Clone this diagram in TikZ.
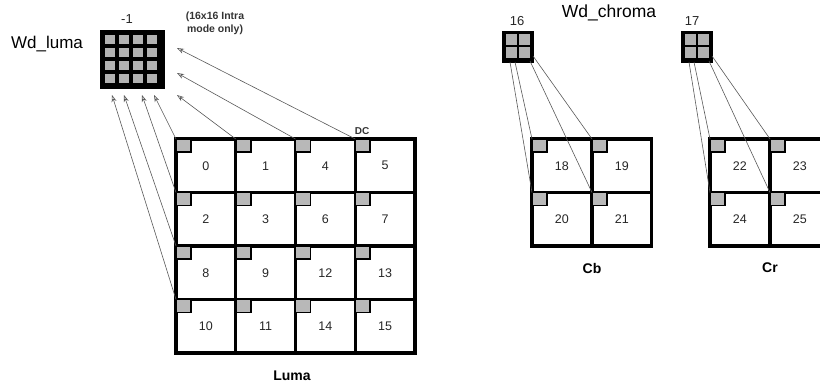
\documentclass[tikz,border=0pt]{standalone}
\usepackage{fontspec}
\setmainfont{Liberation Sans}
\usetikzlibrary{arrows.meta,patterns}
\tikzset{
  cellbox/.style={draw, line width=3.2pt, minimum width=59.75pt, minimum height=53.5pt,
    inner sep=0pt, outer sep=0pt, anchor=north west, text=black!85,
    font=\fontsize{12.5}{14}\selectfont},
  dcsq/.style={draw=black, fill=black!28, line width=1.8pt},
  wdbox/.style={draw=black, fill=black, inner sep=0pt, outer sep=0pt, anchor=north west},
  wdsq/.style={fill=black!30},
  arr/.style={draw=black!65, line width=0.6pt, -{Stealth[open,length=7pt,width=5pt]}},
  thinln/.style={draw=black!65, line width=0.6pt},
  lbl/.style={inner sep=0pt, font=\fontsize{17}{19}\selectfont},
  num/.style={inner sep=0pt, text=black!85, font=\fontsize{13}{15}\selectfont},
  bold/.style={inner sep=0pt, font=\bfseries\fontsize{14}{16}\selectfont},
  small/.style={inner sep=0pt, align=center, text=black!80, font=\bfseries\fontsize{10.5}{13}\selectfont}
}
\begin{document}
\begin{tikzpicture}[x=1pt,y=-1pt]
\useasboundingbox (0,0) rectangle (820,385);
\clip (0,0) rectangle (820,385);

% ---------- Luma grid ----------
\foreach \n/\c/\r in {0/0/0,1/1/0,4/2/0,5/3/0,2/0/1,3/1/1,6/2/1,7/3/1,8/0/2,9/1/2,12/2/2,13/3/2,10/0/3,11/1/3,14/2/3,15/3/3} {
  \node[cellbox] (c\n) at ({176+59.75*\c},{139+53.5*\r}) {\n};
  \draw[dcsq] (c\n.north west) rectangle ++(15,13);
}
\node[bold] (lumalbl) at (292,376) {Luma};
\node[small, font=\bfseries\fontsize{10}{12}\selectfont] (dc) at (362,131) {DC};

% ---------- Wd_luma ----------
\node[wdbox, minimum width=64pt, minimum height=58pt] (wdl) at (100,30) {};
\foreach \i in {0,...,3} \foreach \j in {0,...,3}
  \fill[wdsq] ({105+14*\i},{35+13*\j}) rectangle ++(10,9);
\node[lbl] (wdltxt) at (47,44) {Wd\_luma};
\node[num] (m1) at (127,19) {-1};
\node[small] (intra) at (215,23) {(16x16 Intra\\mode only)};

\coordinate (a1) at (112,95);
\coordinate (a2) at (124,95);
\coordinate (a3) at (142,95);
\coordinate (a4) at (154,95);
\coordinate (a5) at (177,95);
\coordinate (a6) at (177,73);
\coordinate (a7) at (177,48);
\draw[arr] (c10.north west) -- (a1);
\draw[arr] (c8.north west) -- (a2);
\draw[arr] (c2.north west) -- (a3);
\draw[arr] (c0.north west) -- (a4);
\draw[arr] (c1.north west) -- (a5);
\draw[arr] (c4.north west) -- (a6);
\draw[arr] (c5.north west) -- (a7);

% ---------- Cb ----------
\foreach \n/\c/\r in {18/0/0,19/1/0,20/0/1,21/1/1} {
  \node[cellbox] (c\n) at ({532+60*\c},{139+53.5*\r}) {\n};
  \draw[dcsq] (c\n.north west) rectangle ++(15,13);
}
\node[bold] (cblbl) at (592,268) {Cb};
\node[wdbox, minimum width=31pt, minimum height=31pt] (wdb) at (502,31) {};
\foreach \i in {0,1} \foreach \j in {0,1}
  \fill[wdsq] ({505.5+13*\i},{34.5+13*\j}) rectangle ++(11,11);
\node[num] (n16) at (517,21) {16};
\coordinate (b1) at (510,62);
\coordinate (b2) at (515,62);
\coordinate (b3) at (530,61);
\coordinate (b4) at (533,56);
\draw[thinln] (b1) -- (c20.north west);
\draw[thinln] (b2) -- (c18.north west);
\draw[thinln] (b3) -- (c21.north west);
\draw[thinln] (b4) -- (c19.north west);

% ---------- Cr ----------
\foreach \n/\c/\r in {22/0/0,23/1/0,24/0/1,25/1/1} {
  \node[cellbox] (c\n) at ({710+60*\c},{139+53.5*\r}) {\n};
  \draw[dcsq] (c\n.north west) rectangle ++(15,13);
}
\node[bold] (crlbl) at (770,268) {Cr};
\node[wdbox, minimum width=31pt, minimum height=31pt] (wdr) at (681,31) {};
\foreach \i in {0,1} \foreach \j in {0,1}
  \fill[wdsq] ({684.5+13*\i},{34.5+13*\j}) rectangle ++(11,11);
\node[num] (n17) at (692,21) {17};
\coordinate (r1) at (689,62);
\coordinate (r2) at (694,62);
\coordinate (r3) at (709,61);
\coordinate (r4) at (712,56);
\draw[thinln] (r1) -- (c24.north west);
\draw[thinln] (r2) -- (c22.north west);
\draw[thinln] (r3) -- (c25.north west);
\draw[thinln] (r4) -- (c23.north west);

\node[lbl, font=\fontsize{17.5}{19}\selectfont] (wdc) at (609,13) {Wd\_chroma};
\end{tikzpicture}
\end{document}
